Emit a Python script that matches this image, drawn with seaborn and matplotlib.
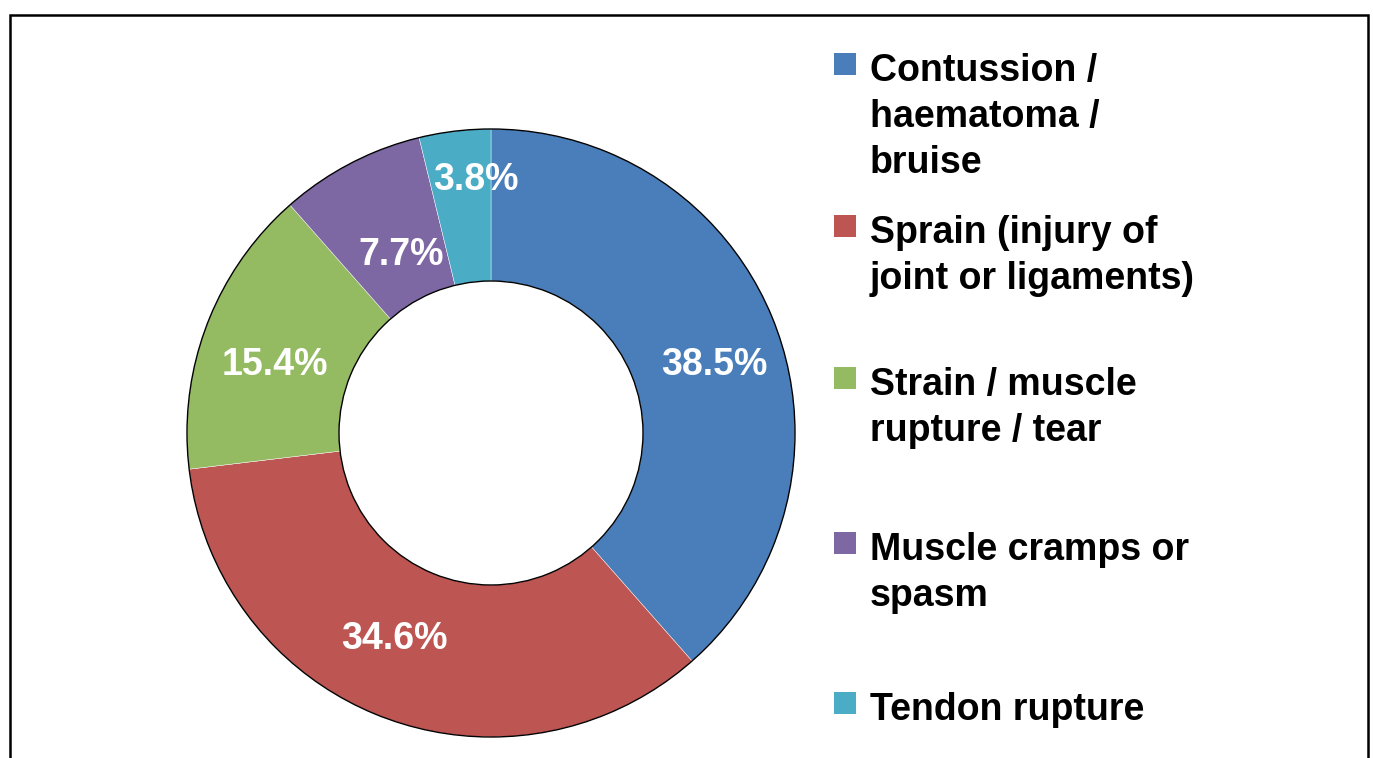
import matplotlib
matplotlib.use("Agg")
import matplotlib.pyplot as plt
from matplotlib.patches import Rectangle
import seaborn as sns

# ---- data ----
categories = [
    "Contussion /\nhaematoma /\nbruise",
    "Sprain (injury of\njoint or ligaments)",
    "Strain / muscle\nrupture / tear",
    "Muscle cramps or\nspasm",
    "Tendon rupture",
]
shares = [38.5, 34.6, 15.4, 7.7, 3.8]
slice_colors = ["#4A7EBB", "#BD5552", "#94BA62", "#7E68A4", "#4AACC5"]

# ---- layout (pixels in the 1373x758 canvas) ----
W, H = 1373, 758
cx, cy, R = 491, 433, 304
# percentage label baselines (pixel x-centre, baseline y)
label_px = [(714, 375), (394, 649), (275, 375), (401, 265), (476, 190)]
# legend first-line baselines
legend_baselines = [81, 243, 395, 560, 720]
legend_text_x = 870
legend_box_x = 834
box = 22

sns.set_theme(style="white")
plt.rcParams["font.family"] = ["Liberation Sans", "DejaVu Sans"]
palette = sns.color_palette(slice_colors)

fig = plt.figure(figsize=(W / 100, H / 100), dpi=100)
fig.patch.set_facecolor("white")

ax = fig.add_axes([(cx - R) / W, (H - cy - R) / H, 2 * R / W, 2 * R / H])
wedges, _ = ax.pie(shares, colors=palette, startangle=90, counterclock=False,
                   radius=1, wedgeprops=dict(width=0.5, edgecolor="white", linewidth=0.3))
# outline of outer and inner rim
ax.pie([1], colors=["none"], radius=1,
       wedgeprops=dict(width=0.5, edgecolor="black", linewidth=1.0, fill=False))
ax.set_xlim(-1, 1)
ax.set_ylim(-1, 1)
ax.set_aspect("equal")
ax.axis("off")

for val, (px, py) in zip(shares, label_px):
    ax.text((px - cx) / R, (cy - py) / R, f"{val:.1f}%", color="white",
            fontsize=27, fontweight="bold", ha="center", va="baseline")

# legend
for cat, col, base in zip(categories, palette, legend_baselines):
    fig.patches.append(Rectangle((legend_box_x / W, (H - (base - 28) - box) / H),
                                 box / W, box / H, transform=fig.transFigure,
                                 facecolor=col, edgecolor="none"))
    fig.text(legend_text_x / W, (H - (base - 28)) / H, cat, fontsize=27,
             fontweight="bold", ha="left", va="top", linespacing=1.36, color="black")

# outer frame
fig.patches.append(Rectangle((10 / W, -0.05), 1358 / W, 1.05 - 15 / H,
                             transform=fig.transFigure, fill=False,
                             edgecolor="black", linewidth=1.8))

fig.savefig("out.png", dpi=100, facecolor="white")
